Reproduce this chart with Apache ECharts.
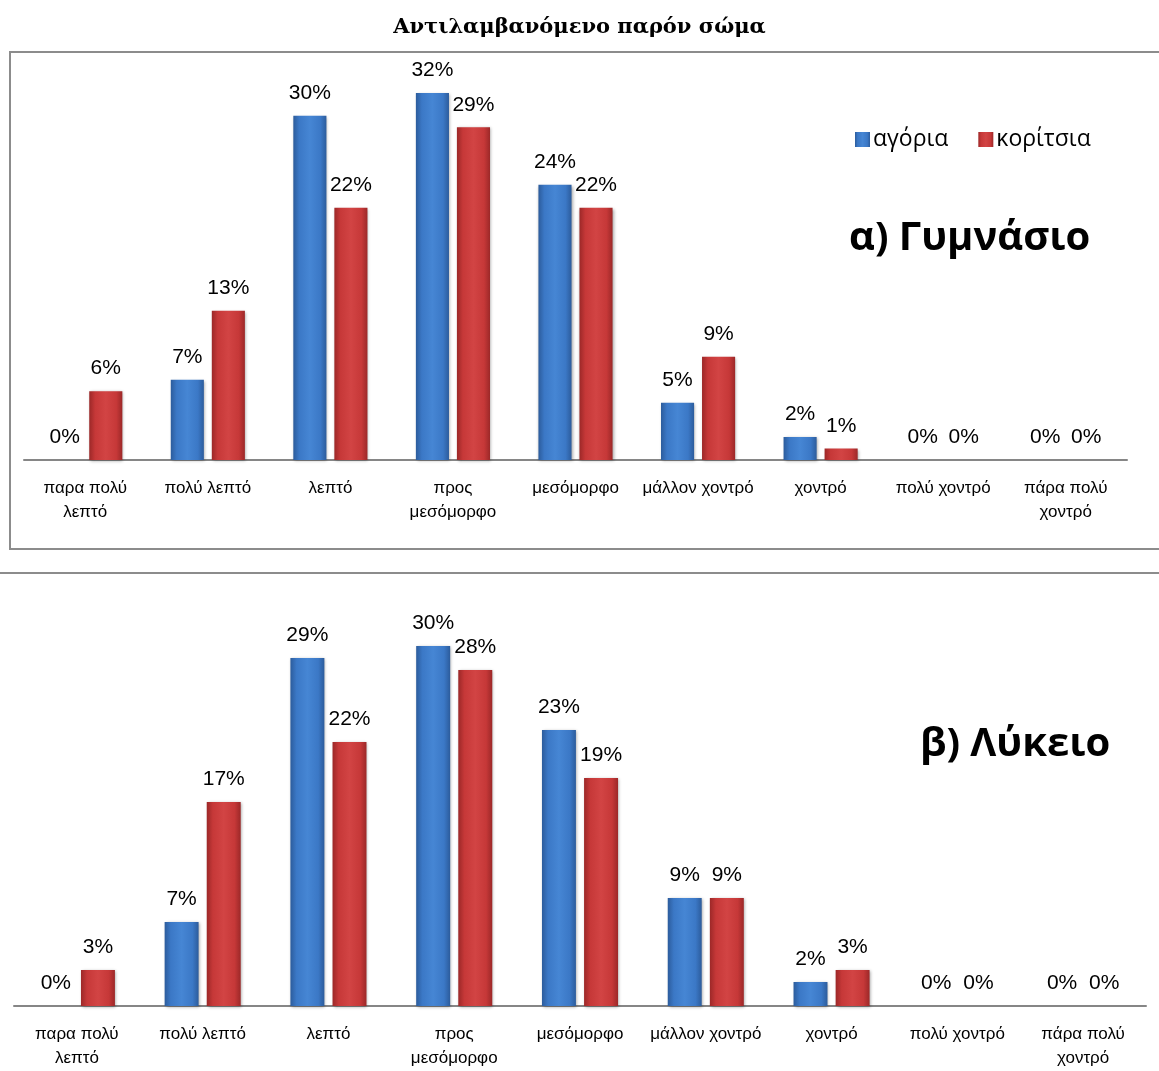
<!DOCTYPE html>
<html>
<head>
<meta charset="utf-8">
<script src="https://cdn.jsdelivr.net/npm/echarts@6/dist/echarts.min.js"></script>
<style>
  html, body { margin: 0; padding: 0; background: #fff; }
  #chart-container { width: 1159px; height: 1071px; }
</style>
</head>
<body>
<div id="chart-container"></div>
<script>
// categories of the body image scale
let categories = ['παρα πολύ\nλεπτό', 'πολύ λεπτό', 'λεπτό', 'προς\nμεσόμορφο', 'μεσόμορφο',
  'μάλλον χοντρό', 'χοντρό', 'πολύ χοντρό', 'πάρα πολύ\nχοντρό']
let seriesNames = ['αγόρια', 'κορίτσια']

// α) Γυμνάσιο
let gymBoys = [0, 7, 30, 32, 24, 5, 2, 0, 0]
let gymGirls = [6, 13, 22, 29, 22, 9, 1, 0, 0]
// β) Λύκειο
let lykBoys = [0, 7, 29, 30, 23, 9, 2, 0, 0]
let lykGirls = [3, 17, 22, 28, 19, 9, 3, 0, 0]

function barColor(edge, mid, light) {
  return new echarts.graphic.LinearGradient(0, 0, 1, 0, [
    { offset: 0, color: edge },
    { offset: 0.18, color: mid },
    { offset: 0.5, color: light },
    { offset: 0.82, color: mid },
    { offset: 1, color: edge }
  ])
}
let blue = barColor('#2c5c9c', '#3b78c6', '#4686d4')
let red = barColor('#9c2828', '#c63838', '#d24444')

let labelStyle = {
  show: true,
  position: 'top',
  distance: 12,
  formatter: '{c}%',
  color: '#000',
  fontSize: 21,
  fontFamily: 'Liberation Sans'
}

function makeSeries(name, data, color, idx) {
  return {
    name: name,
    type: 'bar',
    data: data,
    xAxisIndex: idx,
    yAxisIndex: idx,
    barWidth: '27%',
    barGap: '24%',
    itemStyle: {
      color: color,
      shadowBlur: 3,
      shadowColor: 'rgba(0,0,0,0.35)',
      shadowOffsetX: 1,
      shadowOffsetY: 1
    },
    label: labelStyle
  }
}

function xAxisFor(idx) {
  return {
    type: 'category',
    data: categories,
    gridIndex: idx,
    axisLine: { lineStyle: { color: '#868686', width: 2 } },
    axisTick: { show: false },
    axisLabel: {
      color: '#000',
      fontSize: 17,
      fontFamily: 'Liberation Sans Narrow, Liberation Sans',
      lineHeight: 24,
      margin: 16,
      interval: 0
    }
  }
}

function yAxisFor(idx) {
  return {
    type: 'value',
    gridIndex: idx,
    min: 0,
    max: 35,
    show: false,
    splitLine: { show: false }
  }
}

let dom = document.getElementById('chart-container')
let myChart = echarts.init(dom, null, { renderer: 'canvas' })

let option = {
  animation: false,
  title: [
    {
      text: 'Αντιλαμβανόμενο παρόν σώμα',
      left: 'center',
      top: 12,
      textStyle: { fontFamily: 'DejaVu Serif', fontWeight: 'bold', fontSize: 21, color: '#000' }
    },
    {
      text: 'α) Γυμνάσιο',
      left: 844,
      top: 214,
      textStyle: { fontFamily: 'Open Sans', fontWeight: 'bold', fontSize: 40, color: '#000' }
    },
    {
      text: 'β) Λύκειο',
      left: 915,
      top: 720,
      textStyle: { fontFamily: 'Open Sans', fontWeight: 'bold', fontSize: 40, color: '#000' }
    }
  ],
  legend: {
    data: seriesNames,
    left: 850,
    top: 123,
    itemWidth: 15,
    itemHeight: 15,
    itemGap: 30,
    icon: 'rect',
    textStyle: { fontFamily: 'Open Sans', fontSize: 23, color: '#000', padding: [0, 0, 0, -2] }
  },
  graphic: [
    {
      type: 'rect',
      shape: { x: 10, y: 52, width: 1160, height: 497 },
      style: { fill: 'none', stroke: '#8c8c8c', lineWidth: 2 },
      silent: true
    },
    {
      type: 'line',
      shape: { x1: 0, y1: 573, x2: 1159, y2: 573 },
      style: { stroke: '#8c8c8c', lineWidth: 2 },
      silent: true
    }
  ],
  grid: [
    { left: 24, right: 32, top: 58.5, bottom: 611 },
    { left: 14, right: 13, top: 586, bottom: 65 }
  ],
  xAxis: [xAxisFor(0), xAxisFor(1)],
  yAxis: [yAxisFor(0), yAxisFor(1)],
  series: [
    makeSeries(seriesNames[0], gymBoys, blue, 0),
    makeSeries(seriesNames[1], gymGirls, red, 0),
    makeSeries(seriesNames[0], lykBoys, blue, 1),
    makeSeries(seriesNames[1], lykGirls, red, 1)
  ]
}

myChart.setOption(option)
window.addEventListener('resize', myChart.resize)
</script>
</body>
</html>
